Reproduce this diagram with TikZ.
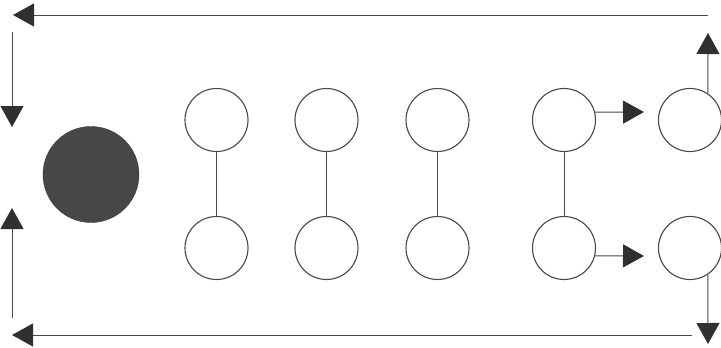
\documentclass[tikz,border=0pt]{standalone}
\usetikzlibrary{arrows.meta}
\definecolor{ink}{HTML}{484848}
\definecolor{headink}{HTML}{303030}
\definecolor{ball}{HTML}{474747}
\begin{document}
\begin{tikzpicture}[x=1pt,y=-1pt,
  ring/.style={circle,draw=ink,line width=1.1pt,minimum size=63pt,inner sep=0pt},
  link/.style={draw=ink,line width=1pt},
  arr/.style={draw=ink,line width=1pt,-{Triangle[length=21pt,width=23pt,color=headink]}}]
\useasboundingbox[fill=white] (0,0) rectangle (721,348);
% dark ball
\node[circle,fill=ball,draw=ball!80!black,minimum size=96pt,inner sep=0pt] (ball) at (91,174.5) {};
% circles
\node[ring] (t1) at (216.5,120) {};
\node[ring] (b1) at (216.5,248) {};
\node[ring] (t2) at (326.5,120) {};
\node[ring] (b2) at (326.5,248) {};
\node[ring] (t3) at (437.5,120) {};
\node[ring] (b3) at (437.5,248) {};
\node[ring] (t4) at (564,120) {};
\node[ring] (b4) at (564,248) {};
\node[ring] (t5) at (690,120) {};
\node[ring] (b5) at (690,248) {};
% vertical links
\draw[link] (t1) -- (b1);
\draw[link] (t2) -- (b2);
\draw[link] (t3) -- (b3);
\draw[link] (t4) -- (b4);
% free ends
\coordinate (ra) at (644,112);
\coordinate (rb) at (644,256);
\coordinate (up) at (708,33);
\coordinate (dn) at (708,344);
\coordinate (topR) at (708,15);
\coordinate (topL) at (13,15);
\coordinate (lS) at (12,32);
\coordinate (lE) at (12,127);
\coordinate (lS2) at (12,318);
\coordinate (lE2) at (12,208);
\coordinate (botR) at (692,335);
\coordinate (botL) at (12,335);
% arrows
\draw[arr] (t4.14.5) -- (ra);
\draw[arr] (b4.-14.5) -- (rb);
\draw[arr] (t5.56) -- (up);
\draw[arr] (b5.-56) -- (dn);
\draw[arr] (topR) -- (topL);
\draw[arr] (lS) -- (lE);
\draw[arr] (lS2) -- (lE2);
\draw[arr] (botR) -- (botL);
\end{tikzpicture}
\end{document}
